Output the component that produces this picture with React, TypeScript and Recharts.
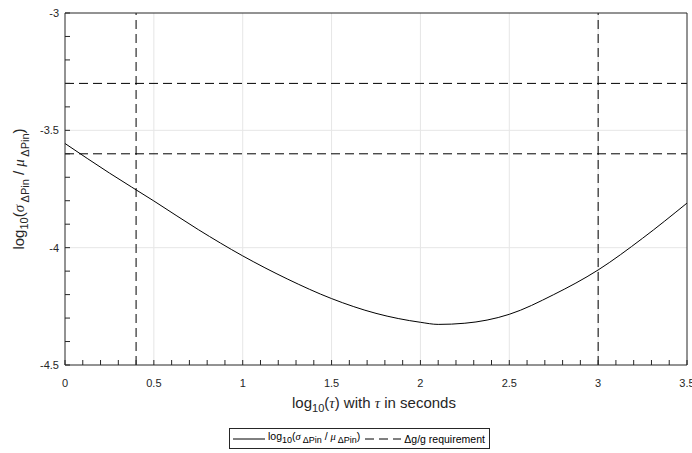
import { Label, Line, LineChart, ReferenceLine, XAxis, YAxis } from "recharts";

// log10(tau) and log10(sigma / mu)
const logTau = [0, 0.25, 0.5, 0.75, 1, 1.25, 1.5, 1.75, 2, 2.1, 2.25, 2.5, 2.75, 3, 3.25, 3.5];
const logSigmaRatio = [
  -3.556, -3.682, -3.801, -3.923, -4.035, -4.133, -4.217, -4.28, -4.318, -4.327, -4.322,
  -4.284, -4.2, -4.095, -3.96, -3.81,
];

// dashed requirement limits
const requirementTau = [0.4, 3];
const requirementRatio = [-3.3, -3.6];

const xMajorTicks = [0, 0.5, 1, 1.5, 2, 2.5, 3, 3.5];
const yMajorTicks = [-4.5, -4, -3.5, -3];
const xTicks = Array.from({ length: 36 }, (_, i) => i / 10);
const yTicks = Array.from({ length: 16 }, (_, i) => (i - 45) / 10);

const curve = logTau.map((x, i) => ({ x, y: logSigmaRatio[i] }));

const sans = '"Liberation Sans", Arial, Helvetica, sans-serif';
const serif = '"Liberation Serif", "Times New Roman", serif';
const axisColor = "#262626";
const gridColor = "#e6e6e6";

function XTitle() {
  return (
    <text x={374} y={408} textAnchor="middle" fontSize={15} fill={axisColor} fontFamily={sans}>
      <tspan>log</tspan>
      <tspan dy={4} fontSize={11}>10</tspan>
      <tspan dy={-4}>(</tspan>
      <tspan fontFamily={serif} fontStyle="italic">τ</tspan>
      <tspan>) with </tspan>
      <tspan fontFamily={serif} fontStyle="italic">τ</tspan>
      <tspan> in seconds</tspan>
    </text>
  );
}

function YTitle() {
  return (
    <text
      x={24}
      y={189}
      transform="rotate(-90 24 189)"
      textAnchor="middle"
      fontSize={15}
      fill={axisColor}
      fontFamily={sans}
    >
      <tspan>log</tspan>
      <tspan dy={4} fontSize={11}>10</tspan>
      <tspan dy={-4}>(</tspan>
      <tspan fontFamily={serif} fontStyle="italic">σ</tspan>
      <tspan dy={5} fontSize={11}> ΔPin</tspan>
      <tspan dy={-5}> / </tspan>
      <tspan fontFamily={serif} fontStyle="italic">μ</tspan>
      <tspan dy={5} fontSize={11}> ΔPin</tspan>
      <tspan dy={-5}>)</tspan>
    </text>
  );
}

function LegendBox() {
  const sub = { fontSize: 9 };
  return (
    <div
      style={{
        position: "absolute",
        left: 229,
        top: 428,
        height: 21,
        boxSizing: "border-box",
        border: `1px solid ${axisColor}`,
        background: "#fff",
        display: "flex",
        alignItems: "center",
        padding: "0 4px 0 3px",
        fontFamily: sans,
        fontSize: 10.5,
        color: "#000",
        whiteSpace: "nowrap",
        lineHeight: "12px",
      }}
    >
      <svg width={32} height={4}>
        <line x1={0} y1={2} x2={32} y2={2} stroke="#000" strokeWidth={1} />
      </svg>
      <span style={{ marginLeft: 3 }}>
        log<sub style={sub}>10</sub>(<i style={{ fontFamily: serif }}>σ</i>
        <sub style={sub}> ΔPin</sub> / <i style={{ fontFamily: serif }}>μ</i>
        <sub style={sub}> ΔPin</sub>)
      </span>
      <svg width={36} height={4} style={{ marginLeft: 5 }}>
        <line x1={0} y1={2} x2={36} y2={2} stroke="#000" strokeWidth={1} strokeDasharray="9 5" />
      </svg>
      <span style={{ marginLeft: 3 }}>Δg/g requirement</span>
    </div>
  );
}

export default function App() {
  const tickStyle = { fill: axisColor, fontSize: 11, fontFamily: sans };
  const fmtX = (v: number) => (xMajorTicks.includes(v) ? String(v) : "");
  const fmtY = (v: number) => (yMajorTicks.includes(v) ? String(v) : "");

  return (
    <div style={{ position: "absolute", left: 0, top: 0, width: 692, height: 453, background: "#fff" }}>
      <LineChart
        width={692}
        height={453}
        data={curve}
        margin={{ top: 12, right: 4, bottom: 58, left: 8 }}
      >
        <XAxis
          dataKey="x"
          type="number"
          domain={[0, 3.5]}
          allowDataOverflow
          ticks={xTicks}
          interval={0}
          tickFormatter={fmtX}
          tickSize={-5}
          tickMargin={19}
          height={30}
          stroke={axisColor}
          tick={tickStyle}
        >
          <Label content={() => <XTitle />} />
        </XAxis>
        <XAxis
          xAxisId="top"
          orientation="top"
          dataKey="x"
          type="number"
          domain={[0, 3.5]}
          allowDataOverflow
          ticks={xTicks}
          interval={0}
          tick={false}
          tickSize={-5}
          height={1}
          stroke={axisColor}
        />
        <YAxis
          type="number"
          domain={[-4.5, -3]}
          allowDataOverflow
          ticks={yTicks}
          interval={0}
          tickFormatter={fmtY}
          tickSize={-5}
          tickMargin={11}
          width={57}
          stroke={axisColor}
          tick={tickStyle}
        >
          <Label content={() => <YTitle />} />
        </YAxis>
        <YAxis
          yAxisId="right"
          orientation="right"
          type="number"
          domain={[-4.5, -3]}
          allowDataOverflow
          ticks={yTicks}
          interval={0}
          tick={false}
          tickSize={-5}
          width={1}
          stroke={axisColor}
        />

        {xMajorTicks.slice(1, -1).map((v) => (
          <ReferenceLine key={`gx${v}`} x={v} stroke={gridColor} strokeWidth={1} />
        ))}
        {yMajorTicks.slice(1, -1).map((v) => (
          <ReferenceLine key={`gy${v}`} y={v} stroke={gridColor} strokeWidth={1} />
        ))}
        {requirementTau.map((v) => (
          <ReferenceLine key={`rx${v}`} x={v} stroke="#000" strokeWidth={1} strokeDasharray="9 5" />
        ))}
        {requirementRatio.map((v) => (
          <ReferenceLine key={`ry${v}`} y={v} stroke="#000" strokeWidth={1} strokeDasharray="9 5" />
        ))}

        {/* invisible copy so the top/right box axes get drawn */}
        <Line
          xAxisId="top"
          yAxisId="right"
          dataKey="y"
          type="monotone"
          stroke="none"
          strokeOpacity={0}
          dot={false}
          activeDot={false}
          legendType="none"
          isAnimationActive={false}
        />
        <Line
          dataKey="y"
          type="monotone"
          stroke="#000"
          strokeWidth={1}
          dot={false}
          activeDot={false}
          isAnimationActive={false}
        />
      </LineChart>
      <LegendBox />
    </div>
  );
}
